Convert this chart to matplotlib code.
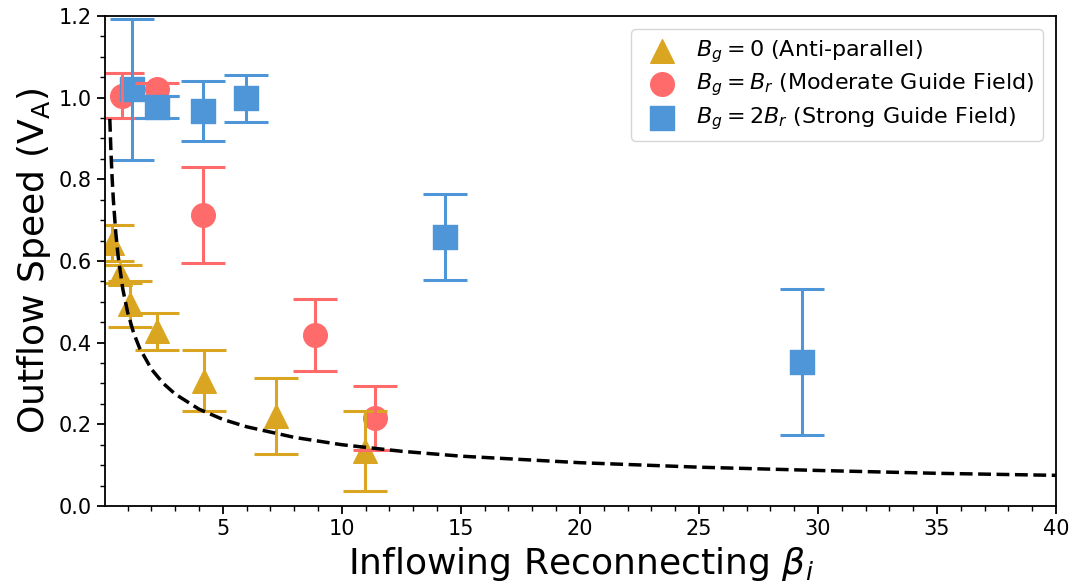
import numpy as np
import matplotlib
matplotlib.use("Agg")
import matplotlib.pyplot as plt
from matplotlib.ticker import MultipleLocator

# anti-parallel, B_g = 0
beta_anti = [0.34, 0.66, 1.10, 2.25, 4.21, 7.23, 10.99]
v_anti = [0.645, 0.569, 0.495, 0.428, 0.307, 0.220, 0.135]
err_anti = [0.044, 0.022, 0.056, 0.045, 0.075, 0.093, 0.098]

# moderate guide field, B_g = B_r
beta_mod = [0.76, 2.25, 4.18, 8.87, 11.40]
v_mod = [1.005, 1.020, 0.712, 0.419, 0.216]
err_mod = [0.055, 0.015, 0.117, 0.088, 0.078]

# strong guide field, B_g = 2B_r
beta_strong = [1.19, 2.23, 4.15, 5.96, 14.33, 29.34]
v_strong = [1.020, 0.978, 0.967, 0.998, 0.658, 0.353]
err_strong = [0.172, 0.027, 0.074, 0.058, 0.105, 0.179]

# dashed model curve
beta_fit = [0.25, 0.3, 0.35, 0.4, 0.5, 0.6, 0.8, 1.0, 1.25, 1.5, 2.0, 2.5, 3.0,
            4.0, 5.0, 6.0, 8.0, 10, 12.5, 15, 20, 25, 30, 35, 40]
v_fit = [0.948, 0.865, 0.801, 0.749, 0.670, 0.612, 0.530, 0.474, 0.424, 0.387,
         0.335, 0.300, 0.274, 0.237, 0.212, 0.194, 0.168, 0.150, 0.134, 0.122,
         0.106, 0.095, 0.087, 0.080, 0.075]

gold = "#DAA520"
red = "#FF6B6B"
blue = "#4F96D8"

fig = plt.figure(figsize=(10.74, 5.88), dpi=100)
ax = fig.add_axes([0.0978, 0.1395, 0.8854, 0.8333])

ms = 17 ** 2
ax.scatter(beta_anti, v_anti, marker="^", s=ms, color=gold, zorder=1,
           label=r"$B_g = 0$ (Anti-parallel)")
ax.scatter(beta_mod, v_mod, marker="o", s=ms, color=red, zorder=1,
           label=r"$B_g = B_r$ (Moderate Guide Field)")
ax.scatter(beta_strong, v_strong, marker="s", s=ms, color=blue, zorder=1,
           label=r"$B_g = 2B_r$ (Strong Guide Field)")

for b, v, e, c in [(beta_anti, v_anti, err_anti, gold),
                   (beta_mod, v_mod, err_mod, red),
                   (beta_strong, v_strong, err_strong, blue)]:
    ax.errorbar(b, v, yerr=e, fmt="none", ecolor=c, elinewidth=2.2,
                capsize=15.5, capthick=2.2, zorder=2)

ax.plot(beta_fit, v_fit, "k--", lw=2.5, zorder=2)

ax.set_xlim(0.05, 40)
ax.set_ylim(0, 1.2)
ax.set_xticks([5, 10, 15, 20, 25, 30, 35, 40])
ax.xaxis.set_minor_locator(MultipleLocator(1))
ax.yaxis.set_major_locator(MultipleLocator(0.2))
ax.yaxis.set_minor_locator(MultipleLocator(0.05))
ax.tick_params(which="major", labelsize=15, length=6, width=1.3)
ax.tick_params(which="minor", length=3.5, width=1.0)
for sp in ax.spines.values():
    sp.set_linewidth(1.3)

ax.set_xlabel(r"Inflowing Reconnecting $\beta_i$", fontsize=26)
ax.set_ylabel(r"Outflow Speed ($\mathrm{V_A}$)", fontsize=26)

ax.legend(loc="upper right", fontsize=16, scatterpoints=1, handletextpad=0.5,
          borderpad=0.4, labelspacing=0.3, borderaxespad=0.6)

fig.savefig("out.png", dpi=100)
